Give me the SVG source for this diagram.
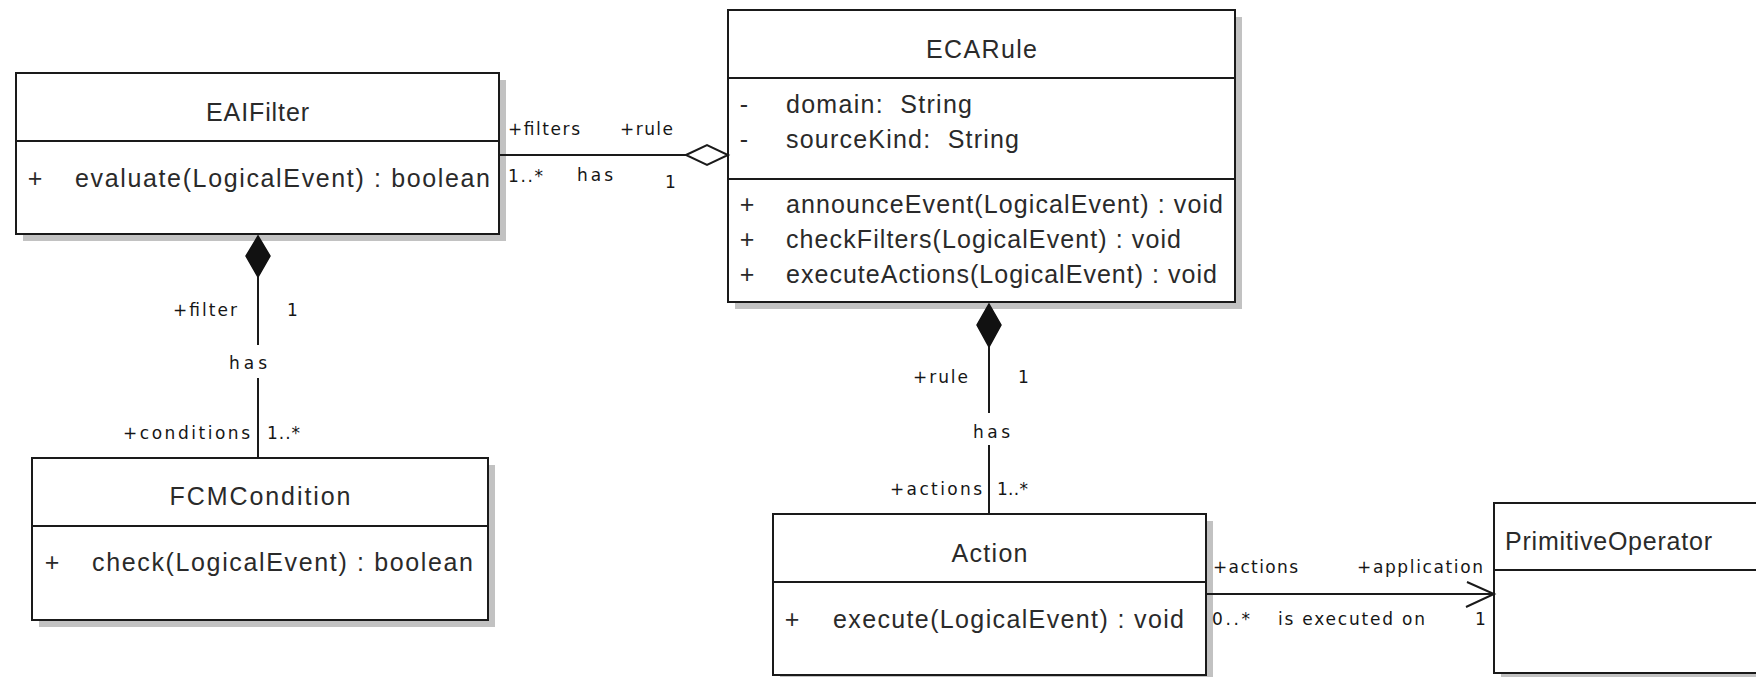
<svg xmlns="http://www.w3.org/2000/svg" width="1756" height="677" viewBox="0 0 1756 677">
<style>
.bg{fill:#ffffff}
.shadow{fill:#c2c2c2}
.box{fill:#ffffff;stroke:#1a1a1a;stroke-width:2}
.div{stroke:#1a1a1a;stroke-width:2}
.cls{font-family:"Liberation Sans",Arial,sans-serif;font-size:25px;fill:#2a2a2a}
.mid{text-anchor:middle}
.lbl{font-family:"DejaVu Sans","Liberation Sans",sans-serif;font-size:17px;fill:#161616}
.ln{stroke:#1a1a1a;stroke-width:2;fill:none}
.solid{fill:#111111;stroke:#111111;stroke-width:1.5}
.hollow{fill:#ffffff;stroke:#1a1a1a;stroke-width:2}
</style>
<rect class="bg" x="0" y="0" width="1756" height="677"/>

<g id="EAIFilter">
<rect class="shadow" x="23" y="80" width="483" height="161"/>
<rect class="box" x="16" y="73" width="483" height="161"/>
<line class="div" x1="16" y1="141" x2="499" y2="141"/>
<text class="cls mid" x="257.5" y="121" textLength="103">EAIFilter</text>
<text class="cls mid" x="35" y="187">+</text>
<text class="cls" x="75" y="187" textLength="415">evaluate(LogicalEvent) : boolean</text>
</g>

<g id="ECARule">
<rect class="shadow" x="735" y="17" width="507" height="292"/>
<rect class="box" x="728" y="10" width="507" height="292"/>
<line class="div" x1="728" y1="78" x2="1235" y2="78"/>
<line class="div" x1="728" y1="179" x2="1235" y2="179"/>
<text class="cls mid" x="981.5" y="58" textLength="111">ECARule</text>
<text class="cls mid" x="744" y="113">-</text>
<text class="cls" x="786" y="113" textLength="186" xml:space="preserve">domain:  String</text>
<text class="cls mid" x="744" y="148">-</text>
<text class="cls" x="786" y="148" textLength="233" xml:space="preserve">sourceKind:  String</text>
<text class="cls mid" x="747" y="213">+</text>
<text class="cls" x="786" y="213" textLength="437">announceEvent(LogicalEvent) : void</text>
<text class="cls mid" x="747" y="248">+</text>
<text class="cls" x="786" y="248" textLength="395">checkFilters(LogicalEvent) : void</text>
<text class="cls mid" x="747" y="283">+</text>
<text class="cls" x="786" y="283" textLength="431">executeActions(LogicalEvent) : void</text>
</g>

<g id="FCMCondition">
<rect class="shadow" x="39" y="465" width="456" height="162"/>
<rect class="box" x="32" y="458" width="456" height="162"/>
<line class="div" x1="32" y1="526" x2="488" y2="526"/>
<text class="cls mid" x="260" y="505" textLength="181">FCMCondition</text>
<text class="cls mid" x="52" y="571">+</text>
<text class="cls" x="92" y="571" textLength="381">check(LogicalEvent) : boolean</text>
</g>

<g id="Action">
<rect class="shadow" x="780" y="521" width="433" height="161"/>
<rect class="box" x="773" y="514" width="433" height="161"/>
<line class="div" x1="773" y1="582" x2="1206" y2="582"/>
<text class="cls mid" x="989.5" y="562" textLength="76">Action</text>
<text class="cls mid" x="792" y="628">+</text>
<text class="cls" x="833" y="628" textLength="351">execute(LogicalEvent) : void</text>
</g>

<g id="PrimitiveOperator">
<rect class="shadow" x="1501" y="510" width="300" height="170"/>
<rect class="box" x="1494" y="503" width="300" height="170"/>
<line class="div" x1="1494" y1="570" x2="1794" y2="570"/>
<text class="cls" x="1505" y="550" textLength="207">PrimitiveOperator</text>
</g>

<g id="connectors">
<g id="c-filters-rule">
<line class="ln" x1="499" y1="155" x2="686" y2="155"/>
<polygon class="hollow" points="686,155 707,145 728,155 707,165"/>
<text class="lbl" x="508" y="135" textLength="72">+filters</text>
<text class="lbl" x="620" y="135" textLength="53">+rule</text>
<text class="lbl" x="508" y="182" textLength="35">1..*</text>
<text class="lbl" x="577" y="181" textLength="36">has</text>
<text class="lbl" x="665" y="188">1</text>
</g>
<g id="c-filter-conditions">
<polygon class="solid" points="258,236 270,256 258,277 246,256"/>
<line class="ln" x1="258" y1="277" x2="258" y2="345"/>
<line class="ln" x1="258" y1="378" x2="258" y2="458"/>
<text class="lbl" x="229" y="369" textLength="38">has</text>
<text class="lbl" x="173" y="316" textLength="64">+filter</text>
<text class="lbl" x="287" y="316">1</text>
<text class="lbl" x="123" y="439" textLength="127">+conditions</text>
<text class="lbl" x="267" y="439" textLength="33">1..*</text>
</g>
<g id="c-rule-actions">
<polygon class="solid" points="989,304 1001,325 989,347 977,325"/>
<line class="ln" x1="989" y1="347" x2="989" y2="413"/>
<line class="ln" x1="989" y1="445" x2="989" y2="514"/>
<text class="lbl" x="913" y="383" textLength="55">+rule</text>
<text class="lbl" x="1018" y="383">1</text>
<text class="lbl" x="973" y="438" textLength="37">has</text>
<text class="lbl" x="890" y="495" textLength="92">+actions</text>
<text class="lbl" x="997" y="495" textLength="31">1..*</text>
</g>
<g id="c-action-operator">
<line class="ln" x1="1206" y1="594" x2="1494" y2="594"/>
<polyline class="ln" points="1467,582 1494,594 1466,607"/>
<text class="lbl" x="1213" y="573" textLength="85">+actions</text>
<text class="lbl" x="1357" y="573" textLength="126">+application</text>
<text class="lbl" x="1212" y="625" textLength="38">0..*</text>
<text class="lbl" x="1278" y="625" textLength="147">is executed on</text>
<text class="lbl" x="1475" y="625">1</text>
</g>
</g>
</svg>
